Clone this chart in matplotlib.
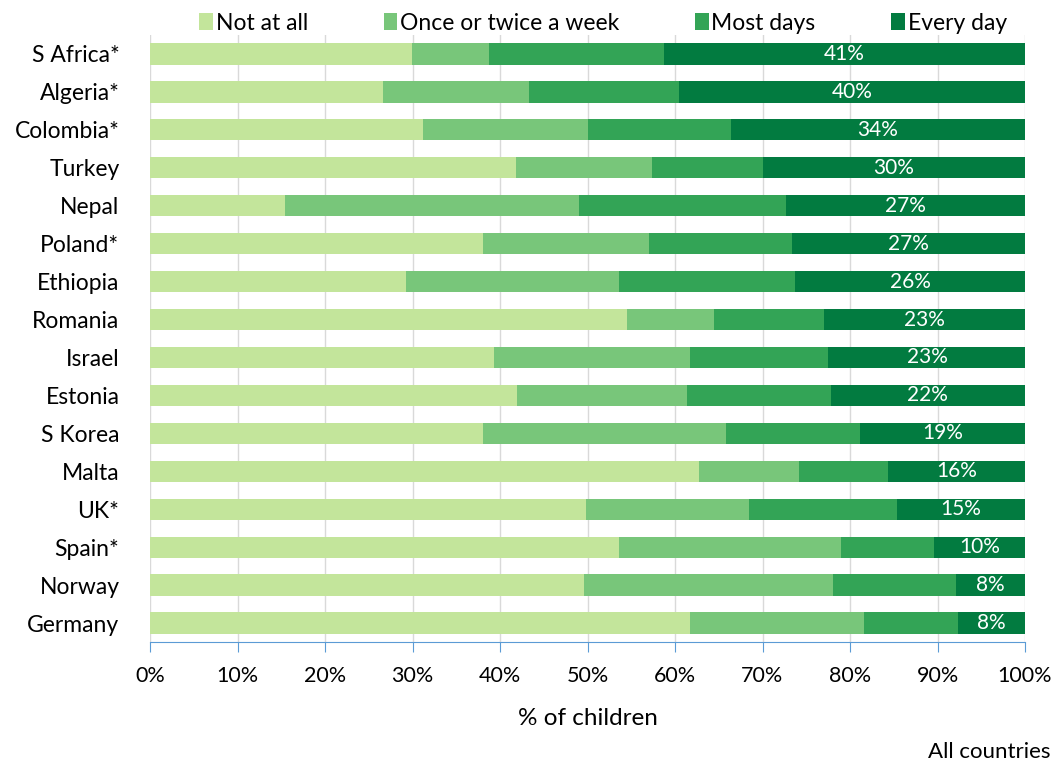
import matplotlib.pyplot as plt
import numpy as np

plt.rcParams['font.family'] = ['Lato', 'DejaVu Sans']

countries = ['S Africa*', 'Algeria*', 'Colombia*', 'Turkey', 'Nepal', 'Poland*',
             'Ethiopia', 'Romania', 'Israel', 'Estonia', 'S Korea', 'Malta',
             'UK*', 'Spain*', 'Norway', 'Germany']
not_at_all = [29.9, 26.6, 31.2, 41.8, 15.4, 38.0, 29.3, 54.5, 39.3, 41.9, 38.1, 62.7, 49.8, 53.6, 49.6, 61.7]
once_twice = [8.8, 16.7, 18.9, 15.6, 33.6, 19.0, 24.3, 9.9, 22.4, 19.5, 27.7, 11.5, 18.6, 25.4, 28.4, 19.9]
most_days = [20.0, 17.2, 16.3, 12.6, 23.7, 16.4, 20.1, 12.6, 15.8, 16.4, 15.3, 10.1, 17.0, 10.6, 14.1, 10.8]
every_day = [41.3, 39.6, 33.6, 30.0, 27.3, 26.6, 26.3, 23.0, 22.6, 22.2, 18.9, 15.7, 14.6, 10.4, 7.9, 7.6]

series = ['Not at all', 'Once or twice a week', 'Most days', 'Every day']
colors = ['#c3e59b', '#78c67a', '#33a456', '#027b40']

fig = plt.figure(figsize=(10.56, 7.65), dpi=100)
ax = fig.add_axes([150/1056, 1 - 642/765, 875/1056, 607/765])

y = np.arange(len(countries))
left = np.zeros(len(countries))
for vals, name, c in zip([not_at_all, once_twice, most_days, every_day], series, colors):
    ax.barh(y, vals, left=left, height=0.56, color=c, label=name, zorder=3)
    left += np.array(vals)

# labels for "every day"
for yi, l0, v in zip(y, left - np.array(every_day), every_day):
    ax.text(l0 + v / 2, yi, f'{v:.0f}%', ha='center', va='center',
            color='white', fontsize=15, zorder=4)

ax.set_xlim(0, 100)
ax.set_ylim(len(countries) - 0.5, -0.5)
ax.set_yticks(y)
ax.set_yticklabels(countries, fontsize=16.5)
ax.set_xticks(np.arange(0, 101, 10))
ax.set_xticklabels([f'{t}%' for t in range(0, 101, 10)], fontsize=15.5)
ax.tick_params(axis='y', length=0, pad=22)
ax.tick_params(axis='x', length=7, color='#5b9bd5', pad=10)
ax.grid(axis='x', color='#d9d9d9', linewidth=1, zorder=0)
for s in ['top', 'right', 'left']:
    ax.spines[s].set_visible(False)
ax.spines['bottom'].set_color('#5b9bd5')
ax.set_xlabel('% of children', fontsize=17.5, labelpad=16)

fig.legend(loc='center', bbox_to_anchor=(0.571, 1 - 23/765), ncol=4, frameon=False,
           fontsize=16.5, handlelength=0.6, handleheight=0.8, handletextpad=0.12,
           columnspacing=3.3)

fig.text(1050/1056, 1 - 752/765, 'All countries', ha='right', va='center', fontsize=16)

fig.savefig('out.png', dpi=100)
